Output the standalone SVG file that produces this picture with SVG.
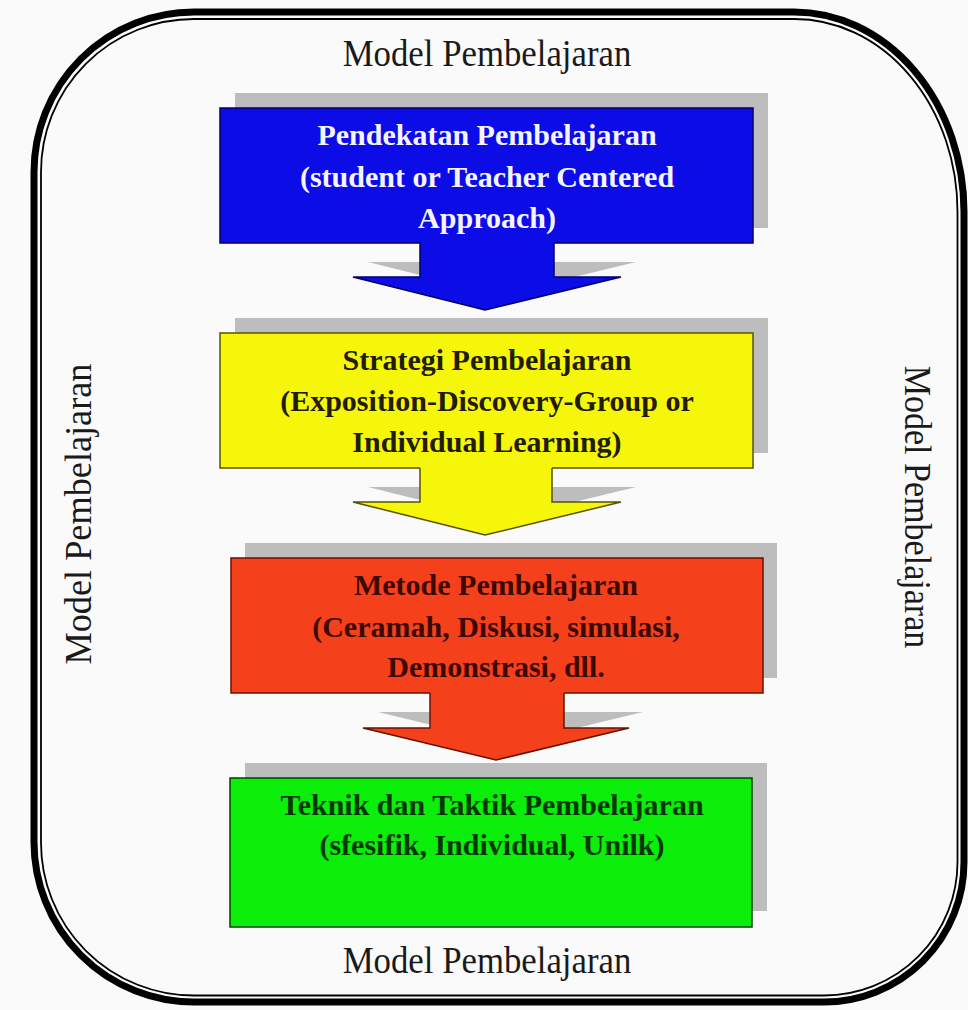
<svg xmlns="http://www.w3.org/2000/svg" width="968" height="1010" viewBox="0 0 968 1010">
<style>
.lbl{font-family:"Liberation Serif","Times New Roman",serif;font-size:37px;fill:#1a1a1a;text-anchor:middle}
.bt{font-family:"Liberation Serif","Times New Roman",serif;font-size:30px;font-weight:bold;text-anchor:middle}
.shadow{fill:#bdbdbd}
.outline{fill:none;stroke-width:1.5;stroke-linejoin:miter}
</style>
<rect x="0" y="0" width="968" height="1010" fill="#fafafa"/>
<g id="frame">
<path d="M194,12 H794 A170,200 0 0 1 964,212 V862 A140,140 0 0 1 824,1002 H194 A160,160 0 0 1 34,842 V172 A160,160 0 0 1 194,12 Z" fill="none" stroke="#000" stroke-width="7"/>
<path d="M194,19 H794 A163,193 0 0 1 957.5,212 V862 A133.5,133.5 0 0 1 824,995.5 H194 A153,153 0 0 1 41,842 V172 A153,153 0 0 1 194,19 Z" fill="none" stroke="#000" stroke-width="1.8"/>
</g>
<g id="labels">
<text class="lbl" transform="translate(487,66) scale(0.94,1)">Model Pembelajaran</text>
<text class="lbl" transform="translate(487,973) scale(0.94,1)">Model Pembelajaran</text>
<text class="lbl" transform="translate(91,514) rotate(-90) scale(0.98,1)">Model Pembelajaran</text>
<text class="lbl" transform="translate(905,507) rotate(90) scale(0.92,1)">Model Pembelajaran</text>
</g>
<g id="nodes">
<g id="pendekatan">
<rect class="shadow" x="235" y="93" width="533" height="135"/>
<rect x="220" y="108" width="533" height="135" fill="#0c0ce6" stroke="#00006a" stroke-width="1.5"/>
<text class="bt" fill="#f4f4ff" x="487" y="145">Pendekatan Pembelajaran</text>
<text class="bt" fill="#f4f4ff" x="487" y="187">(student or Teacher Centered</text>
<text class="bt" fill="#f4f4ff" x="487" y="228">Approach)</text>
</g>
<g id="strategi">
<rect class="shadow" x="235" y="318" width="533" height="135"/>
<rect x="220" y="333" width="533" height="135" fill="#f6f60a" stroke="#5a5200" stroke-width="1.5"/>
<text class="bt" fill="#221c00" x="487" y="370">Strategi Pembelajaran</text>
<text class="bt" fill="#221c00" x="487" y="411">(Exposition-Discovery-Group or</text>
<text class="bt" fill="#221c00" x="487" y="452">Individual Learning)</text>
</g>
<g id="metode">
<rect class="shadow" x="245" y="543" width="532" height="135"/>
<rect x="231" y="558" width="532" height="135" fill="#f4411b" stroke="#6a1000" stroke-width="1.5"/>
<text class="bt" fill="#3c0800" x="496" y="595">Metode Pembelajaran</text>
<text class="bt" fill="#3c0800" x="496" y="637">(Ceramah, Diskusi, simulasi,</text>
<text class="bt" fill="#3c0800" x="496" y="677">Demonstrasi, dll.</text>
</g>
<g id="teknik">
<rect class="shadow" x="245" y="763" width="522" height="148"/>
<rect x="230" y="778" width="522" height="149" fill="#0aee0a" stroke="#004400" stroke-width="1.5"/>
<text class="bt" fill="#063806" x="492" y="815">Teknik dan Taktik Pembelajaran</text>
<text class="bt" fill="#063806" x="492" y="855">(sfesifik, Individual, Unilk)</text>
</g>
</g>
<g id="connectors">
<g id="arrow1">
<path class="shadow" d="M435,243 V262 H636 L500,295 L368,262 H435 Z"/>
<path d="M420,242 V277 H353 L485,310 L621,277 H554 V242 Z" fill="#0c0ce6"/>
<path class="outline" stroke="#00006a" d="M420,243 V277 H353 L485,310 L621,277 H554 V243"/>
</g>
<g id="arrow2">
<path class="shadow" d="M435,468 V487 H636 L500,520 L368,487 H435 Z"/>
<path d="M420,467 V502 H353 L485,535 L621,502 H552 V467 Z" fill="#f6f60a"/>
<path class="outline" stroke="#5a5200" d="M420,468 V502 H353 L485,535 L621,502 H552 V468"/>
</g>
<g id="arrow3">
<path class="shadow" d="M445,693 V712 H643 L510,744 L378,712 H445 Z"/>
<path d="M430,692 V728 H363 L496,760 L629,728 H564 V692 Z" fill="#f4411b"/>
<path class="outline" stroke="#6a1000" d="M430,693 V728 H363 L496,760 L629,728 H564 V693"/>
</g>
</g>
</svg>
